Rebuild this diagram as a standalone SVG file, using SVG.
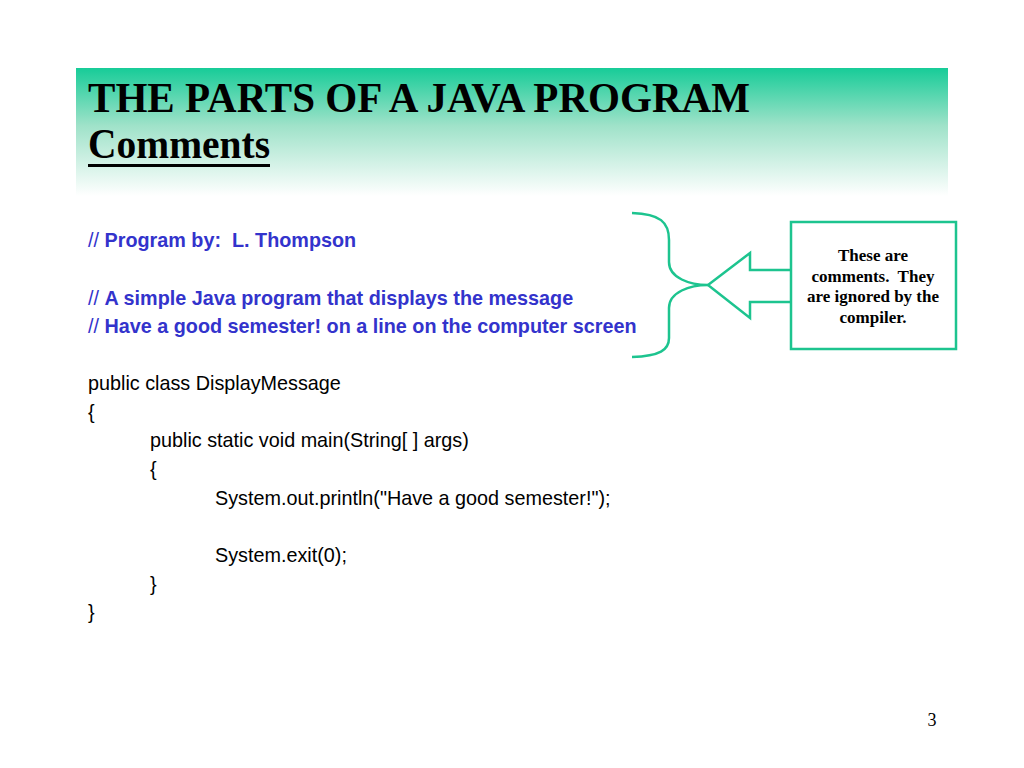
<svg xmlns="http://www.w3.org/2000/svg" width="1024" height="768" viewBox="0 0 1024 768">
<defs>
<linearGradient id="hdr" x1="0" y1="0" x2="0" y2="1">
<stop offset="0" stop-color="#17CC98"/>
<stop offset="0.45" stop-color="#9FE2C9"/>
<stop offset="1" stop-color="#FFFFFF"/>
</linearGradient>
<style>
text{white-space:pre}
.title{font-family:"Liberation Serif","Times New Roman",serif;font-weight:bold;font-size:42px;fill:#000}
.cmt{font-family:"Liberation Sans",Arial,sans-serif;font-size:19.8px;fill:#3333CC}
.cmt .b{font-weight:bold}
.code{font-family:"Liberation Sans",Arial,sans-serif;font-size:19.8px;fill:#000}
.note{font-family:"Liberation Serif","Times New Roman",serif;font-weight:bold;font-size:17px;fill:#000;text-anchor:middle}
.ln{fill:none;stroke:#1DC48F;stroke-width:2.5}
</style>
</defs>
<rect width="1024" height="768" fill="#fff"/>
<g id="header">
<rect x="76" y="68" width="872" height="128" fill="url(#hdr)"/>
<text class="title" x="88" y="112" textLength="662" lengthAdjust="spacingAndGlyphs">THE PARTS OF A JAVA PROGRAM</text>
<text class="title" x="88" y="158" textLength="182" lengthAdjust="spacingAndGlyphs">Comments</text>
<rect x="88" y="164" width="182" height="3" fill="#000"/>
</g>
<g id="comments">
<text class="cmt" x="88" y="247">// <tspan class="b">Program by:  L. Thompson</tspan></text>
<text class="cmt" x="88" y="305">// <tspan class="b">A simple Java program that displays the message</tspan></text>
<text class="cmt" x="88" y="333">// <tspan class="b">Have a good semester! on a line on the computer screen</tspan></text>
</g>
<g id="code">
<text class="code" x="88" y="390">public class DisplayMessage</text>
<text class="code" x="88" y="419">{</text>
<text class="code" x="150" y="447">public static void main(String[ ] args)</text>
<text class="code" x="150" y="476">{</text>
<text class="code" x="215" y="505">System.out.println("Have a good semester!");</text>
<text class="code" x="215" y="562">System.exit(0);</text>
<text class="code" x="150" y="591">}</text>
<text class="code" x="88" y="619">}</text>
</g>
<g id="connectors">
<path class="ln" d="M632,213 C660,214 669,222 669,240 L669,262 C669,278 690,285 708,285 C690,285 669,292 669,308 L669,338 C669,350 660,356 632,357"/>
<path class="ln" d="M791,270 L750,270 L750,253 L708,285 L750,318 L750,302 L791,302"/>
</g>
<g id="note">
<rect class="ln" x="791" y="222" width="165" height="127"/>
<text class="note" x="873" y="261">These are</text>
<text class="note" x="873" y="282">comments.  They</text>
<text class="note" x="873" y="302">are ignored by the</text>
<text class="note" x="873" y="323">compiler.</text>
</g>
<text x="932" y="726" font-family="'Liberation Serif','Times New Roman',serif" font-size="18" text-anchor="middle">3</text>
</svg>
